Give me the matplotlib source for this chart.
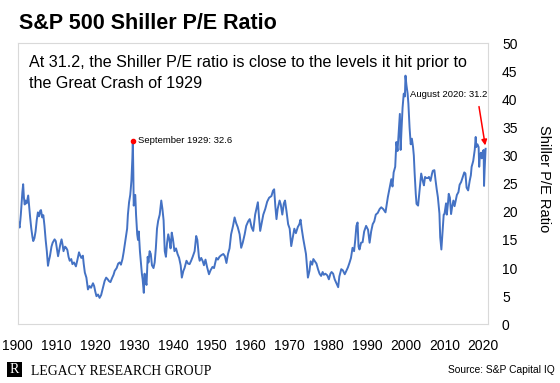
import matplotlib
matplotlib.use("Agg")
import matplotlib.pyplot as plt
from matplotlib.patches import Rectangle

plt.rcParams['font.family'] = ['Liberation Sans', 'DejaVu Sans']

# Shiller CAPE (year, ratio)
years = [
    1900.0, 1900.3, 1900.5, 1900.8, 1901.0, 1901.2, 1901.4, 1901.6, 1901.8, 1902.0,
    1902.3, 1902.7, 1903.0, 1903.2, 1903.5, 1903.8, 1904.0, 1904.3, 1904.6, 1904.9,
    1905.2, 1905.5, 1905.8, 1906.0, 1906.3, 1906.6, 1906.9, 1907.2, 1907.5, 1907.8,
    1908.0, 1908.3, 1908.7, 1909.0, 1909.5, 1909.8, 1910.1, 1910.4, 1910.7, 1911.0,
    1911.3, 1911.6, 1911.8, 1912.2, 1912.5, 1912.8, 1913.1, 1913.4, 1913.8, 1914.1,
    1914.5, 1915.0, 1915.4, 1915.8, 1916.0, 1916.4, 1916.8, 1917.0, 1917.3, 1917.7,
    1918.1, 1918.5, 1918.9, 1919.4, 1919.7, 1920.0, 1920.3, 1920.7, 1921.1, 1921.5,
    1921.9, 1922.4, 1922.8, 1923.2, 1923.5, 1923.9, 1924.3, 1924.7, 1925.0, 1925.5,
    1925.9, 1926.3, 1926.6, 1927.0, 1927.3, 1927.6, 1927.9, 1928.2, 1928.4, 1928.7,
    1929.0, 1929.1, 1929.3, 1929.45, 1929.55, 1929.67, 1929.8, 1929.9, 1930.1, 1930.3,
    1930.5, 1930.8, 1931.0, 1931.2, 1931.5, 1931.8, 1932.0, 1932.2, 1932.5, 1932.7,
    1932.9, 1933.2, 1933.5, 1933.7, 1934.0, 1934.3, 1934.6, 1935.0, 1935.3, 1935.6,
    1935.9, 1936.2, 1936.6, 1937.0, 1937.3, 1937.6, 1937.9, 1938.2, 1938.5, 1938.8,
    1939.1, 1939.4, 1939.7, 1940.0, 1940.4, 1940.8, 1941.2, 1941.6, 1942.0, 1942.3,
    1942.7, 1943.0, 1943.5, 1943.9, 1944.3, 1944.7, 1945.1, 1945.6, 1946.0, 1946.3,
    1946.7, 1946.9, 1947.3, 1947.7, 1948.0, 1948.4, 1948.8, 1949.3, 1949.7, 1950.2,
    1950.6, 1951.2, 1951.6, 1952.0, 1952.5, 1953.0, 1953.4, 1953.8, 1954.2, 1954.6,
    1955.0, 1955.5, 1955.9, 1956.3, 1956.7, 1957.2, 1957.6, 1958.0, 1958.5, 1958.9,
    1959.4, 1959.8, 1960.3, 1960.7, 1961.2, 1961.9, 1962.2, 1962.5, 1962.9, 1963.3,
    1963.8, 1964.3, 1964.8, 1965.4, 1965.8, 1966.1, 1966.4, 1966.7, 1967.0, 1967.5,
    1967.8, 1968.2, 1968.6, 1968.9, 1969.3, 1969.7, 1970.1, 1970.5, 1970.9, 1971.3,
    1971.7, 1972.2, 1972.6, 1972.9, 1973.2, 1973.6, 1973.9, 1974.3, 1974.6, 1974.8,
    1975.2, 1975.5, 1975.9, 1976.2, 1976.6, 1977.0, 1977.4, 1977.8, 1978.2, 1978.6,
    1978.9, 1979.3, 1979.8, 1980.2, 1980.6, 1980.9, 1981.3, 1981.7, 1982.2, 1982.6,
    1982.9, 1983.4, 1983.8, 1984.3, 1984.7, 1985.1, 1985.5, 1985.9, 1986.3, 1986.7,
    1987.0, 1987.3, 1987.6, 1987.85, 1988.1, 1988.5, 1988.9, 1989.3, 1989.8, 1990.3,
    1990.7, 1991.1, 1991.5, 1991.9, 1992.3, 1992.8, 1993.3, 1993.7, 1994.2, 1994.8,
    1995.4, 1995.8, 1996.3, 1996.6, 1996.9, 1997.3, 1997.6, 1997.9, 1998.2, 1998.5,
    1998.7, 1998.9, 1999.2, 1999.5, 1999.8, 1999.95, 2000.2, 2000.5, 2000.7, 2001.0,
    2001.3, 2001.6, 2001.9, 2002.1, 2002.3, 2002.6, 2002.8, 2003.2, 2003.6, 2004.0,
    2004.4, 2004.7, 2005.0, 2005.3, 2005.7, 2006.0, 2006.4, 2006.8, 2007.0, 2007.4,
    2007.7, 2008.0, 2008.3, 2008.7, 2008.9, 2009.2, 2009.5, 2009.8, 2010.0, 2010.4,
    2010.6, 2010.9, 2011.1, 2011.4, 2011.7, 2012.0, 2012.3, 2012.6, 2012.9, 2013.2,
    2013.6, 2013.9, 2014.3, 2014.8, 2015.1, 2015.4, 2015.7, 2016.1, 2016.5, 2016.8,
    2017.0, 2017.4, 2017.8, 2018.05, 2018.2, 2018.5, 2018.8, 2018.95, 2019.1, 2019.4,
    2019.6, 2019.9, 2020.1, 2020.2, 2020.35, 2020.5, 2020.6,
]
cape = [
    18.7, 17.6, 17.2, 19.5, 21.5, 23.5, 24.9, 22.5, 21.3, 22.0,
    21.5, 22.9, 20.5, 19.0, 17.0, 15.5, 14.8, 15.3, 16.5, 18.5,
    19.9, 19.2, 20.2, 20.3, 19.0, 19.4, 17.5, 15.0, 13.0, 10.4,
    11.2, 12.1, 13.8, 14.5, 15.1, 14.8, 13.5, 12.1, 13.2, 14.3,
    15.1, 14.0, 13.0, 13.8, 13.6, 13.2, 12.0, 11.3, 11.6, 10.7,
    11.0, 10.3, 11.5, 12.8, 12.4, 11.8, 12.2, 10.8, 9.2, 8.3,
    6.2, 6.8, 6.5, 7.3, 6.8, 5.8, 5.0, 5.3, 4.7, 5.2,
    6.3, 7.7, 8.3, 8.0, 7.7, 7.5, 8.2, 8.8, 9.5, 10.0,
    10.8, 11.0, 10.6, 11.6, 12.8, 14.2, 15.5, 17.0, 19.5, 21.7,
    23.0, 23.75, 25.5, 28.0, 29.5, 32.6, 27.0, 21.1, 22.0, 23.0,
    19.5, 16.0, 15.0, 16.5, 13.0, 10.5, 9.0, 8.0, 5.6, 9.0,
    7.8, 7.0, 12.0, 11.0, 13.0, 12.5, 10.5, 10.0, 11.0, 13.5,
    17.0, 18.4, 19.5, 22.0, 20.5, 18.5, 13.0, 12.0, 14.5, 16.0,
    15.0, 13.5, 16.3, 15.2, 13.0, 13.5, 12.5, 11.8, 10.5, 8.3,
    9.5, 10.0, 11.3, 10.8, 10.7, 11.3, 12.0, 13.0, 15.7, 15.0,
    12.0, 11.3, 11.8, 11.2, 10.5, 11.5, 10.2, 8.9, 9.6, 10.2,
    10.0, 11.8, 11.5, 12.0, 12.3, 12.5, 12.1, 10.9, 12.5, 13.5,
    16.0, 17.5, 19.0, 18.0, 17.3, 16.0, 13.6, 14.5, 16.0, 17.5,
    18.3, 18.7, 17.2, 16.6, 19.5, 21.7, 19.0, 16.6, 18.0, 19.5,
    20.5, 21.8, 22.5, 22.8, 23.75, 24.0, 21.0, 18.7, 20.5, 22.0,
    21.3, 19.5, 21.5, 22.0, 20.0, 17.8, 17.0, 13.9, 15.5, 17.0,
    16.2, 17.3, 17.8, 18.6, 17.0, 15.2, 14.0, 12.5, 10.0, 8.3,
    9.5, 11.2, 10.6, 11.6, 11.2, 10.8, 9.8, 9.0, 8.6, 9.3,
    8.8, 9.0, 8.7, 8.0, 9.0, 9.3, 9.0, 8.0, 7.2, 6.6,
    8.5, 9.8, 9.6, 8.9, 9.5, 10.1, 10.9, 11.8, 13.6, 13.0,
    15.0, 17.5, 18.1, 13.8, 13.3, 14.5, 14.6, 16.5, 17.5, 16.8,
    14.5, 16.5, 17.8, 18.3, 19.5, 19.8, 20.5, 20.8, 20.5, 19.9,
    22.6, 24.0, 25.8, 24.5, 27.0, 28.0, 32.4, 30.8, 34.0, 37.4,
    31.0, 34.2, 38.5, 41.0, 40.5, 44.2, 42.5, 41.0, 39.2, 35.0,
    32.0, 33.0, 31.5, 30.0, 27.0, 23.2, 21.4, 21.1, 24.0, 26.8,
    25.5, 24.7, 26.2, 26.0, 26.0, 26.2, 25.5, 26.8, 27.3, 27.4,
    25.6, 24.0, 22.6, 19.7, 15.5, 13.3, 16.5, 19.5, 19.6, 21.5,
    19.5, 21.5, 23.2, 22.5, 19.6, 21.0, 22.0, 21.0, 22.0, 23.0,
    23.5, 24.8, 25.3, 26.4, 27.0, 26.8, 24.3, 23.8, 25.5, 26.5,
    28.0, 29.0, 31.0, 33.3, 31.5, 32.0, 31.5, 28.0, 29.7, 30.5,
    29.5, 30.7, 31.0, 24.6, 27.5, 29.5, 31.2,
]

peak_1929 = (1929.67, 32.6)
latest = (2020.6, 31.2)
x_ticks = list(range(1900, 2021, 10))
y_ticks = list(range(0, 51, 5))

fig = plt.figure(figsize=(5.6, 3.83), dpi=100)
ax = fig.add_axes([0.0313, 0.1532, 0.8393, 0.7345])

ax.plot(years, cape, color='#4472C4', lw=1.4)
ax.plot(*peak_1929, 'o', color='red', ms=3, zorder=3)
ax.annotate('September 1929: 32.6', xy=peak_1929, xytext=(4, 0),
            textcoords='offset points', va='center', fontsize=6.8)
ax.annotate('', xy=(latest[0] - 0.1, latest[1] + 0.6), xytext=(2018.9, 38.7),
            arrowprops=dict(arrowstyle='-|>', color='red', lw=1.1,
                            mutation_scale=8, shrinkA=0, shrinkB=0))
ax.text(2021.0, 40.8, 'August 2020: 31.2', ha='right', va='center', fontsize=6.8)

ax.set_xlim(1899.95, 2021.1)
ax.set_ylim(0, 50)
ax.set_xticks(x_ticks)
ax.set_yticks(y_ticks)
ax.yaxis.tick_right()
ax.tick_params(axis='both', length=0, labelsize=10, colors='black')
ax.tick_params(axis='y', pad=10.4)
ax.tick_params(axis='x', pad=10.5)
for sp in ax.spines.values():
    sp.set_color('#d9d9d9')
    sp.set_linewidth(0.8)

ax.yaxis.set_label_position('right')
ax.set_ylabel('Shiller P/E Ratio', rotation=270, fontsize=10.5, va='center', ha='center')
ax.yaxis.set_label_coords(1.121, 0.519)

fig.text(0.0345, 0.9235, 'S&P 500 Shiller P/E Ratio', fontsize=15.5,
         fontweight='bold', va='baseline')
fig.text(0.0518, 0.857, 'At 31.2, the Shiller P/E ratio is close to the levels it hit prior to\n'
         'the Great Crash of 1929', fontsize=11.6, va='top', linespacing=1.55)

# footer: logo box, company name, source
fig.patches.append(Rectangle((0.012, 0.0164), 0.0268, 0.0392, transform=fig.transFigure,
                             facecolor='black', edgecolor='none'))
fig.text(0.0254, 0.036, 'R', family='Liberation Serif', color='white', fontsize=10,
         ha='center', va='center')
fig.text(0.055, 0.021, 'LEGACY RESEARCH GROUP', family='Liberation Serif',
         fontsize=9.9, va='baseline')
fig.text(0.991, 0.026, 'Source: S&P Capital IQ', fontsize=7.4, ha='right', va='baseline')

fig.savefig('out.png', dpi=100)
